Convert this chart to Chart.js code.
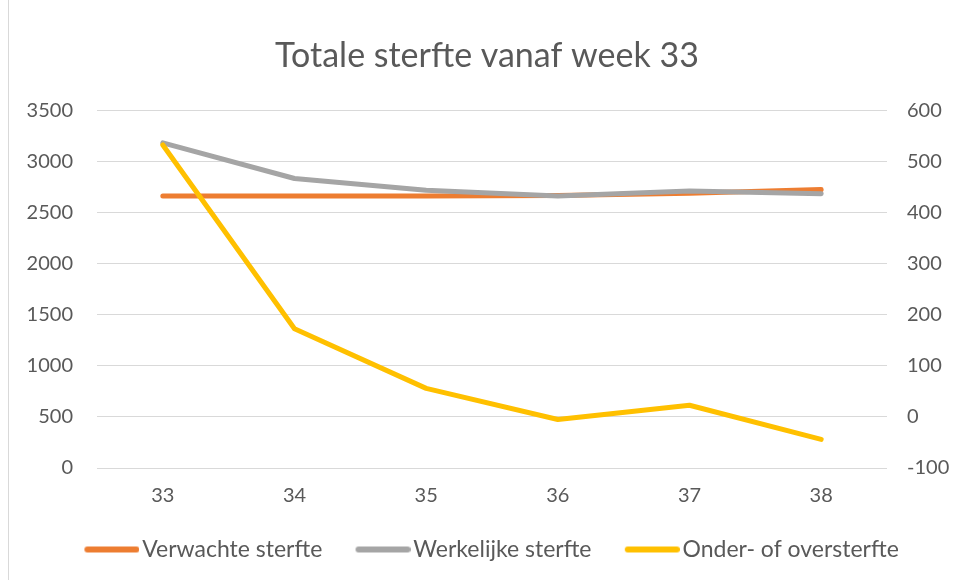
<!DOCTYPE html>
<html>
<head>
<meta charset="utf-8">
<script src="https://cdn.jsdelivr.net/npm/chart.js@4.4.1/dist/chart.umd.min.js"></script>
<style>
  html, body { margin: 0; padding: 0; background: #fff; }
  #wrap { position: relative; width: 957px; height: 580px; }
  #frame { position: absolute; left: 8px; top: 0; width: 1px; height: 580px; background: #d9d9d9; }
  canvas { position: absolute; left: 0; top: 0; }
</style>
</head>
<body>
<div id="wrap">
  <canvas id="c" width="957" height="580"></canvas>
  <div id="frame"></div>
</div>
<script>
const weeks = ['33', '34', '35', '36', '37', '38'];
const verwachteSterfte = [2664, 2664, 2665, 2670, 2693, 2729];
const werkelijkeSterfte = [3186, 2837, 2721, 2666, 2714, 2688];
const onderOversterfte = [533, 173, 56, -5, 23, -44];
const leftTicks = [0, 500, 1000, 1500, 2000, 2500, 3000, 3500];
const rightTicks = [-100, 0, 100, 200, 300, 400, 500, 600];

const FONT = 'Lato, "Liberation Sans", sans-serif';
const TXT = '#595959';
const TICKFONT = { family: FONT, size: 20 };

// legend swatch: a thick line drawn at the right end of a small image
function swatch(color) {
  const cv = document.createElement('canvas');
  cv.width = 73; cv.height = 8;
  const g = cv.getContext('2d');
  g.strokeStyle = color;
  g.lineWidth = 6;
  g.lineCap = 'round';
  g.beginPath();
  g.moveTo(21, 4);
  g.lineTo(70, 4);
  g.stroke();
  return cv;
}

new Chart(document.getElementById('c'), {
  type: 'line',
  data: {
    labels: weeks,
    datasets: [
      { label: 'Verwachte sterfte', data: verwachteSterfte, yAxisID: 'y', borderColor: '#ED7D31', backgroundColor: '#ED7D31', order: 3 },
      { label: 'Werkelijke sterfte', data: werkelijkeSterfte, yAxisID: 'y', borderColor: '#A5A5A5', backgroundColor: '#A5A5A5', order: 2 },
      { label: 'Onder- of oversterfte', data: onderOversterfte, yAxisID: 'y1', borderColor: '#FFC000', backgroundColor: '#FFC000', order: 1 }
    ]
  },
  options: {
    responsive: false,
    animation: false,
    devicePixelRatio: 1,
    layout: { padding: { top: 0, bottom: 9, left: 17, right: 0 } },
    elements: {
      line: { borderWidth: 5, tension: 0, borderCapStyle: 'round', borderJoinStyle: 'round' },
      point: { radius: 0, hoverRadius: 0 }
    },
    plugins: {
      title: {
        display: true,
        text: 'Totale sterfte vanaf week 33',
        color: TXT,
        font: { family: FONT, size: 34, weight: 'normal' },
        padding: { top: 36, bottom: 34 }
      },
      legend: {
        position: 'bottom',
        labels: {
          color: TXT,
          font: { family: FONT, size: 23 },
          usePointStyle: true,
          boxWidth: 55.5,
          pointStyleWidth: 55.5,
          padding: 24,
          generateLabels: chart => chart.data.datasets.map((ds, i) => ({
            text: ds.label,
            fillStyle: ds.borderColor,
            strokeStyle: ds.borderColor,
            lineWidth: 0,
            pointStyle: swatch(ds.borderColor),
            fontColor: TXT,
            hidden: false,
            datasetIndex: i
          }))
        }
      },
      tooltip: { enabled: false }
    },
    scales: {
      x: {
        offset: true,
        grid: { display: false, drawTicks: false },
        border: { display: false },
        ticks: { color: TXT, font: TICKFONT, padding: 16, maxRotation: 0 },
        afterFit: s => { s.height = 46; }
      },
      y: {
        position: 'left',
        min: 0, max: 3500,
        afterBuildTicks: s => { s.ticks = leftTicks.map(v => ({ value: v })); },
        grid: { color: '#D9D9D9', lineWidth: 1, drawTicks: false },
        border: { display: false },
        ticks: { color: TXT, font: TICKFONT, padding: 24, callback: v => String(v) },
        afterFit: s => { s.width = 80; }
      },
      y1: {
        position: 'right',
        min: -100, max: 600,
        afterBuildTicks: s => { s.ticks = rightTicks.map(v => ({ value: v })); },
        grid: { display: false, drawTicks: false },
        border: { display: false },
        ticks: { color: TXT, font: TICKFONT, padding: 20, callback: v => String(v) },
        afterFit: s => { s.width = 70; }
      }
    }
  }
});
</script>
</body>
</html>
